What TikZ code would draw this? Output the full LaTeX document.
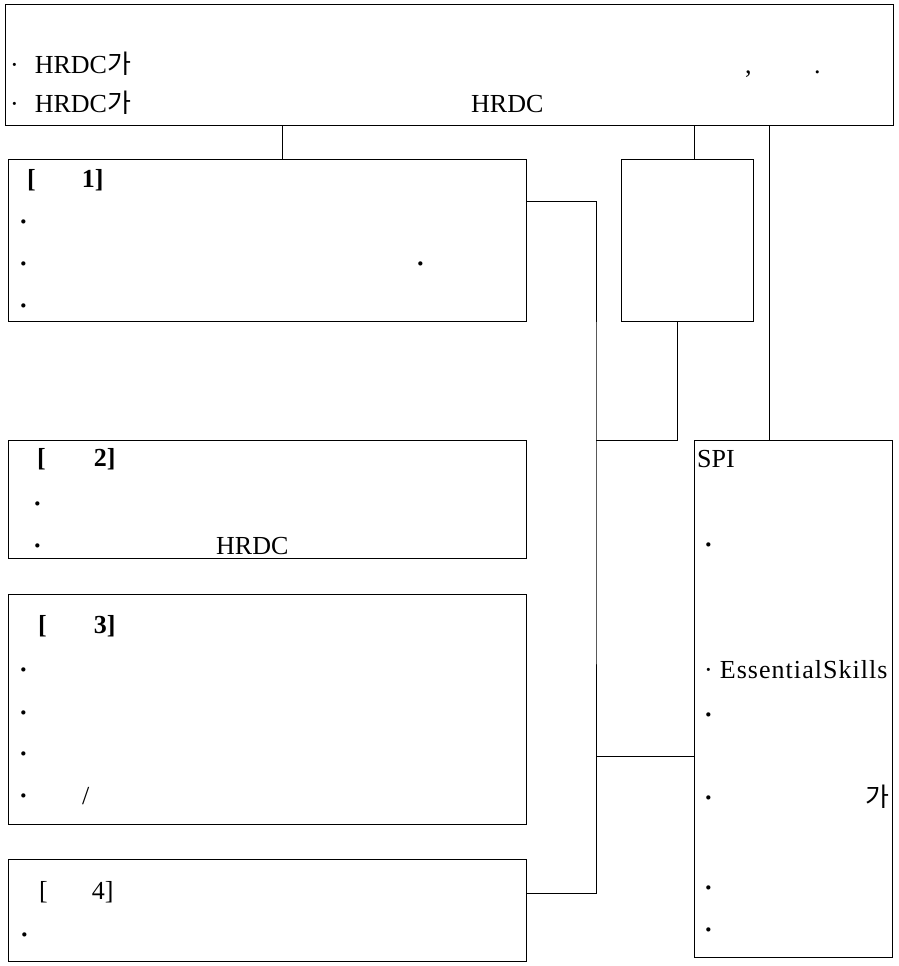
\documentclass[tikz,border=0pt]{standalone}
\usepackage{fontspec}
\setmainfont{Liberation Serif}
\newfontfamily\krfont{Noto Sans CJK KR}
\usetikzlibrary{positioning}

\begin{document}
\begin{tikzpicture}[
    x=1pt, y=-1pt,
    box/.style={draw, line width=1pt, inner sep=0pt, outer sep=0pt, anchor=north west},
    txt/.style={anchor=base west, inner sep=0pt, font=\fontsize{26}{30}\selectfont},
    btxt/.style={anchor=base west, inner sep=0pt, font=\fontsize{26}{30}\selectfont\bfseries},
    link/.style={line width=1pt}
]
\useasboundingbox (0,0) rectangle (899,966);
\node[box, minimum width=888pt, minimum height=120pt] (goal) at (5,5) {};
\node[box, minimum width=518pt, minimum height=162pt] (strat1) at (8,159) {};
\node[box, minimum width=132pt, minimum height=162pt] (mid) at (621,159) {};
\node[box, minimum width=518pt, minimum height=118pt] (strat2) at (8,440) {};
\node[box, minimum width=518pt, minimum height=230pt] (strat3) at (8,594) {};
\node[box, minimum width=518pt, minimum height=102pt] (strat4) at (8,859) {};
\node[box, minimum width=198pt, minimum height=517pt] (spi) at (694,440) {};

\node[txt] (g1) at (10,74) {·\hspace{16pt}HRDC{\krfont 가}};
\node[txt] (g2) at (745,74) {,};
\node[txt] (g3) at (814,74) {.};
\node[txt] (g4) at (10,112) {·\hspace{16pt}HRDC{\krfont 가}};
\node[txt] (g5) at (471,112) {HRDC};

\node[btxt] (s1h) at (27,187) {[\hspace{46pt}1]};
\node[btxt] (s1a) at (19,230) {·};
\node[btxt] (s1b) at (19,272) {·};
\node[btxt] (s1c) at (416,272) {·};
\node[btxt] (s1d) at (19,314) {·};

\node[btxt] (s2h) at (37,466) {[\hspace{48pt}2]};
\node[btxt] (s2a) at (33,512) {·};
\node[btxt] (s2b) at (33,554) {·};
\node[txt] (s2c) at (216,554) {HRDC};

\node[btxt] (s3h) at (38,633) {[\hspace{47pt}3]};
\node[btxt] (s3a) at (19,678) {·};
\node[btxt] (s3b) at (19,721) {·};
\node[btxt] (s3c) at (19,762) {·};
\node[btxt] (s3d) at (19,804) {·};
\node[txt] (s3e) at (82,804) {/};

\node[txt] (s4h) at (39,899) {[\hspace{44pt}4]};
\node[btxt] (s4a) at (20,943) {·};

\node[txt] (p0) at (697,467) {SPI};
\node[btxt] (p1) at (704,553) {·};
\node[txt] (p2) at (704,678) {·\hspace{7pt}{\addfontfeatures{LetterSpace=4}EssentialSkills}};
\node[btxt] (p3) at (704,723) {·};
\node[btxt] (p4) at (704,806) {·};
\node[txt] (p5) at (865,806) {\krfont 가};
\node[btxt] (p6) at (704,896) {·};
\node[btxt] (p7) at (704,938) {·};

\coordinate (bus) at (596,440);
\coordinate (d1) at ([xshift=274pt]strat1.north west);
\coordinate (d2) at ([xshift=73pt]mid.north west);
\coordinate (d3) at ([xshift=75pt]spi.north west);
\coordinate (d4) at ([yshift=-316pt]spi.north west);
\draw[link] (d1) -- (d1 |- goal.south);
\draw[link] (d2) -- (d2 |- goal.south);
\draw[link] (d3) -- (d3 |- goal.south);
\draw[link] ([yshift=-42pt]strat1.north east) -| (bus) |- ([yshift=-34pt]strat4.north east);
\draw[link] ([xshift=56pt]mid.south west) |- (bus);
\draw[link] (bus |- d4) -- (d4);
\end{tikzpicture}
\end{document}
